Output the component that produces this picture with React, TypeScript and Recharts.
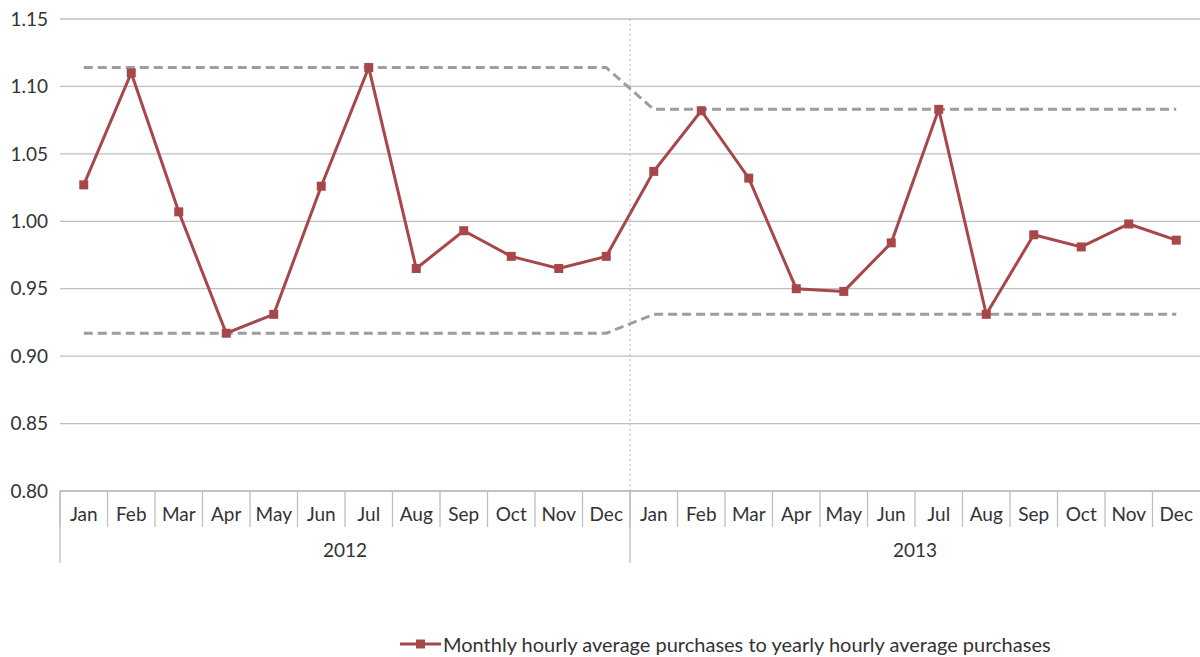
import React from 'react';
import {
  ComposedChart,
  Line,
  XAxis,
  YAxis,
  CartesianGrid,
  ReferenceLine,
  Legend,
} from 'recharts';

const months = ['Jan', 'Feb', 'Mar', 'Apr', 'May', 'Jun', 'Jul', 'Aug', 'Sep', 'Oct', 'Nov', 'Dec'];
const years = ['2012', '2013'];

const ratio2012 = [1.027, 1.110, 1.007, 0.917, 0.931, 1.026, 1.114, 0.965, 0.993, 0.974, 0.965, 0.974];
const ratio2013 = [1.037, 1.082, 1.032, 0.950, 0.948, 0.984, 1.083, 0.931, 0.990, 0.981, 0.998, 0.986];
const upperLimits = [1.114, 1.083];
const lowerLimits = [0.917, 0.931];
const yTicks = [0.8, 0.85, 0.9, 0.95, 1.0, 1.05, 1.1, 1.15];

const seriesName = 'Monthly hourly average purchases to yearly hourly average purchases';

const data = years.flatMap((yr, yi) =>
  months.map((m, mi) => ({
    key: `${m}-${yr}`,
    month: m,
    year: yr,
    value: (yi === 0 ? ratio2012 : ratio2013)[mi],
    upper: upperLimits[yi],
    lower: lowerLimits[yi],
  }))
);

const FONT = 'Lato, "Noto Sans", sans-serif';
const TEXT = '#333333';
const AXIS = '#bfbfbf';
const RED = '#a8474a';
const GREY = '#9d9d9f';

const MonthTick = (props: any) => {
  const { x, y, payload, index } = props;
  const off = payload && payload.offset ? payload.offset : 23.75;
  return (
    <g>
      <line x1={x - off} x2={x - off} y1={y} y2={y + 36} stroke={AXIS} strokeWidth={1.3} />
      <text x={x} y={y + 30} textAnchor="middle" fill={TEXT} fontSize={19} fontWeight={400} fontFamily={FONT}>
        {data[index] ? data[index].month : payload.value}
      </text>
    </g>
  );
};

const YearTick = (props: any) => {
  const { x, y, payload } = props;
  const off = payload && payload.offset ? payload.offset : 285;
  return (
    <g>
      <line x1={x - off} x2={x - off} y1={y - 36} y2={y + 36} stroke={AXIS} strokeWidth={1.3} />
      <text x={x} y={y + 30} textAnchor="middle" fill={TEXT} fontSize={19} fontWeight={400} fontFamily={FONT}>
        {payload.value}
      </text>
    </g>
  );
};

const LegendContent = () => (
  <div style={{ height: 86, position: 'relative', fontFamily: FONT }}>
    <div style={{ position: 'absolute', left: 400, top: 71, display: 'flex', alignItems: 'center' }}>
      <svg width={42} height={12} style={{ display: 'block' }}>
        <line x1={0} x2={41} y1={6} y2={6} stroke={RED} strokeWidth={3} />
        <rect x={16} y={1.5} width={9} height={9} fill={RED} />
      </svg>
      <span style={{ fontSize: 20, color: TEXT, marginLeft: 1, lineHeight: '20px', whiteSpace: 'nowrap' }}>
        {seriesName}
      </span>
    </div>
  </div>
);

const SquareDot = (props: any) => {
  const { cx, cy } = props;
  if (cx == null || cy == null) return null;
  return <rect x={cx - 4.5} y={cy - 4.5} width={9} height={9} fill={RED} />;
};

export default function App() {
  return (
    <div style={{ position: 'absolute', left: 0, top: 0, width: 1200, height: 657, background: '#fff' }}>
      <ComposedChart
        width={1200}
        height={657}
        data={data}
        margin={{ top: 19, right: 0, left: 0, bottom: 8 }}
      >
        <CartesianGrid vertical={false} stroke={AXIS} strokeWidth={1.3} />
        <XAxis
          dataKey="key"
          scale="band"
          height={36}
          interval={0}
          tickSize={0}
          tickMargin={0}
          axisLine={{ stroke: AXIS, strokeWidth: 1.3 }}
          tickLine={false}
          tick={<MonthTick />}
        />
        <XAxis
          xAxisId="year"
          dataKey="year"
          scale="band"
          allowDuplicatedCategory={false}
          ticks={years}
          height={36}
          interval={0}
          tickSize={0}
          tickMargin={0}
          axisLine={false}
          tickLine={false}
          tick={<YearTick />}
        />
        <YAxis
          domain={[0.8, 1.15]}
          ticks={yTicks}
          type="number"
          width={60}
          axisLine={false}
          tickLine={false}
          tickSize={0}
          tickMargin={12}
          allowDataOverflow
          tickFormatter={(v: number) => v.toFixed(2)}
          tick={{ fill: TEXT, fontSize: 19, fontFamily: FONT }}
        />
        <ReferenceLine
          x="Jan-2013"
          position="start"
          stroke="#b5b5b5"
          strokeWidth={1}
          strokeDasharray="2 3"
        />
        <Legend verticalAlign="bottom" content={<LegendContent />} wrapperStyle={{ left: 0, width: 1200 }} />
        <Line
          dataKey="upper"
          stroke={GREY}
          strokeWidth={3}
          strokeDasharray="9 5"
          dot={false}
          activeDot={false}
          isAnimationActive={false}
          legendType="none"
        />
        <Line
          dataKey="lower"
          stroke={GREY}
          strokeWidth={3}
          strokeDasharray="9 5"
          dot={false}
          activeDot={false}
          isAnimationActive={false}
          legendType="none"
        />
        <Line
          dataKey="value"
          name={seriesName}
          stroke={RED}
          strokeWidth={3}
          dot={<SquareDot />}
          activeDot={false}
          isAnimationActive={false}
        />
      </ComposedChart>
    </div>
  );
}
